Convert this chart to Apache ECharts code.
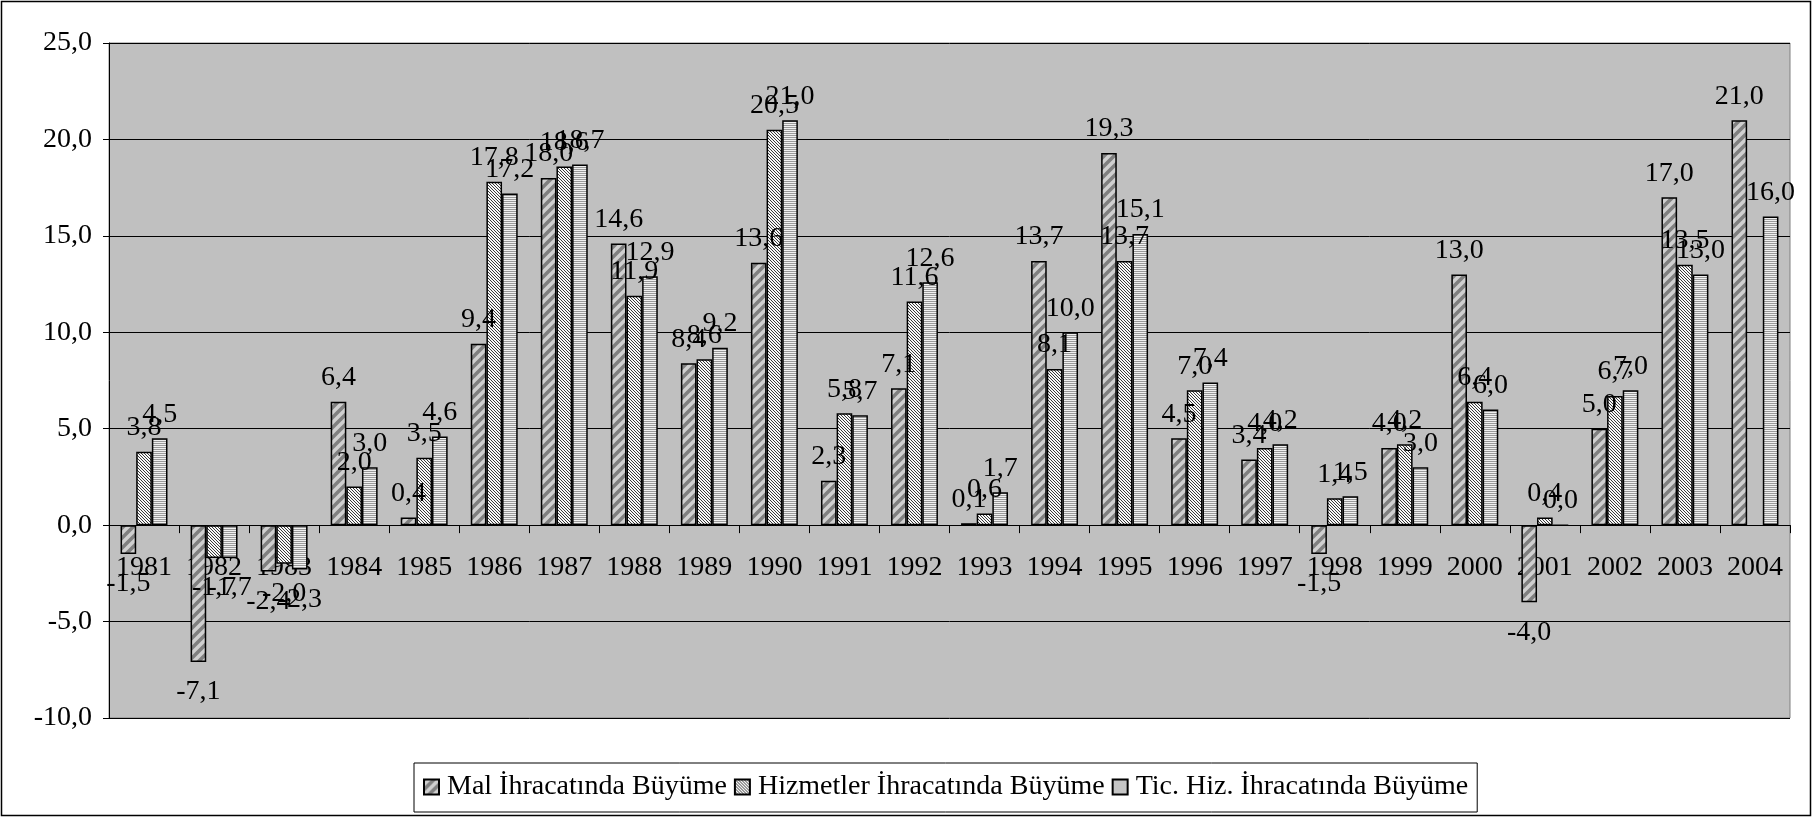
<!DOCTYPE html>
<html>
<head>
<meta charset="utf-8">
<script src="https://cdn.jsdelivr.net/npm/echarts@6/dist/echarts.min.js"></script>
<style>
html, body { margin: 0; padding: 0; background: #fff; }
#chart { width: 1813px; height: 819px; }
</style>
</head>
<body>
<div id="chart"></div>
<script>
var years = ['1981', '1982', '1983', '1984', '1985', '1986', '1987', '1988', '1989', '1990', '1991', '1992',
    '1993', '1994', '1995', '1996', '1997', '1998', '1999', '2000', '2001', '2002', '2003', '2004'];
var seriesNames = ['Mal İhracatında Büyüme', 'Hizmetler İhracatında Büyüme', 'Tic. Hiz. İhracatında Büyüme'];
var malIhracat = [-1.5, -7.1, -2.4, 6.4, 0.4, 9.4, 18.0, 14.6, 8.4, 13.6, 2.3, 7.1,
    0.1, 13.7, 19.3, 4.5, 3.4, -1.5, 4.0, 13.0, -4.0, 5.0, 17.0, 21.0];
var hizmetIhracat = [3.8, -1.7, -2.0, 2.0, 3.5, 17.8, 18.6, 11.9, 8.6, 20.5, 5.8, 11.6,
    0.6, 8.1, 13.7, 7.0, 4.0, 1.4, 4.2, 6.4, 0.4, 6.7, 13.5, null];
var ticHizIhracat = [4.5, -1.7, -2.3, 3.0, 4.6, 17.2, 18.7, 12.9, 9.2, 21.0, 5.7, 12.6,
    1.7, 10.0, 15.1, 7.4, 4.2, 1.5, 3.0, 6.0, 0.0, 7.0, 13.0, 16.0];

var FONT = 'Liberation Serif';
var Y_MIN = -10, Y_MAX = 25;
var GRID_TOP = 43, GRID_BOTTOM = 101, H = 819;

// desen dolgulari (Excel tarzi tarama)
function desenMal() {
    var c = document.createElement('canvas');
    c.width = 10; c.height = 10;
    var g = c.getContext('2d');
    g.fillStyle = '#d0d0d0';
    g.fillRect(0, 0, 10, 10);
    g.strokeStyle = '#808080';
    g.lineWidth = 3.6;
    g.beginPath();
    g.moveTo(-2, 12); g.lineTo(12, -2);
    g.moveTo(-7, 7); g.lineTo(7, -7);
    g.moveTo(3, 17); g.lineTo(17, 3);
    g.stroke();
    return c;
}
function desenHizmet() {
    var c = document.createElement('canvas');
    c.width = 3; c.height = 3;
    var g = c.getContext('2d');
    g.fillStyle = '#f8f8f8';
    g.fillRect(0, 0, 3, 3);
    g.fillStyle = '#3a3a3a';
    for (var y = 0; y < 3; y++) g.fillRect(y, y, 1, 1);
    return c;
}
function desenTic() {
    var c = document.createElement('canvas');
    c.width = 2; c.height = 2;
    var g = c.getContext('2d');
    g.fillStyle = '#f0f0f0';
    g.fillRect(0, 0, 2, 2);
    g.fillStyle = '#9a9a9a';
    g.fillRect(0, 1, 2, 1);
    return c;
}

function virgul(v) {
    return v.toFixed(1).replace('.', ',');
}

// negatif degerlerin etiketi cubugun altina
function veriYap(arr) {
    return arr.map(function (v) {
        if (v == null) return null;
        if (v < 0) return { value: v, label: { position: 'bottom', distance: 16 } };
        return v;
    });
}

function seri(ad, arr, desen) {
    return {
        name: ad,
        type: 'bar',
        data: veriYap(arr),
        barGap: '0%',
        barCategoryGap: '33%',
        itemStyle: {
            color: { image: desen, repeat: 'repeat' },
            borderColor: '#000',
            borderWidth: 1.5
        },
        label: {
            show: true,
            position: 'top',
            distance: 10,
            color: '#000',
            fontFamily: FONT,
            fontSize: 28,
            formatter: function (p) { return p.value == null ? '' : virgul(p.value); }
        }
    };
}

// x ekseni sifir cizgisinde dursun
var plotH = H - GRID_TOP - GRID_BOTTOM;
var sifirOffset = -plotH * (0 - Y_MIN) / (Y_MAX - Y_MIN);

var myChart = echarts.init(document.getElementById('chart'));

var option = {
    animation: false,
    backgroundColor: '#fff',
    graphic: [{
        type: 'rect',
        shape: { x: 1.5, y: 1.5, width: 1809, height: 814 },
        style: { fill: 'none', stroke: '#000', lineWidth: 1.5 },
        silent: true
    }],
    grid: {
        left: 109, right: 23, top: GRID_TOP, bottom: GRID_BOTTOM,
        show: true,
        backgroundColor: '#c0c0c0',
        borderColor: '#808080',
        borderWidth: 1
    },
    legend: {
        data: seriesNames,
        left: 414,
        top: 763,
        padding: [10, 9, 11, 9],
        itemGap: 7,
        itemWidth: 15,
        itemHeight: 15,
        icon: 'rect',
        backgroundColor: '#fff',
        borderColor: '#000',
        borderWidth: 1,
        borderRadius: 0,
        textStyle: { fontFamily: FONT, fontSize: 28, color: '#000', padding: [0, 0, 0, 3] }
    },
    xAxis: {
        type: 'category',
        data: years,
        position: 'bottom',
        offset: sifirOffset,
        axisLine: { onZero: false, lineStyle: { color: '#000', width: 1 } },
        axisTick: { show: true, length: 8, lineStyle: { color: '#000' } },
        axisLabel: { interval: 0, margin: 28, color: '#000', fontFamily: FONT, fontSize: 28 },
        splitLine: { show: false }
    },
    yAxis: {
        type: 'value',
        min: Y_MIN,
        max: Y_MAX,
        interval: 5,
        axisLine: { show: true, lineStyle: { color: '#000', width: 1 } },
        axisTick: { show: true, length: 6, lineStyle: { color: '#000' } },
        axisLabel: {
            margin: 17, color: '#000', fontFamily: FONT, fontSize: 28,
            formatter: function (v) { return virgul(v); }
        },
        splitLine: { show: true, lineStyle: { color: '#000', width: 1 } }
    },
    series: [
        seri(seriesNames[0], malIhracat, desenMal()),
        seri(seriesNames[1], hizmetIhracat, desenHizmet()),
        seri(seriesNames[2], ticHizIhracat, desenTic())
    ]
};

myChart.setOption(option);
</script>
</body>
</html>
